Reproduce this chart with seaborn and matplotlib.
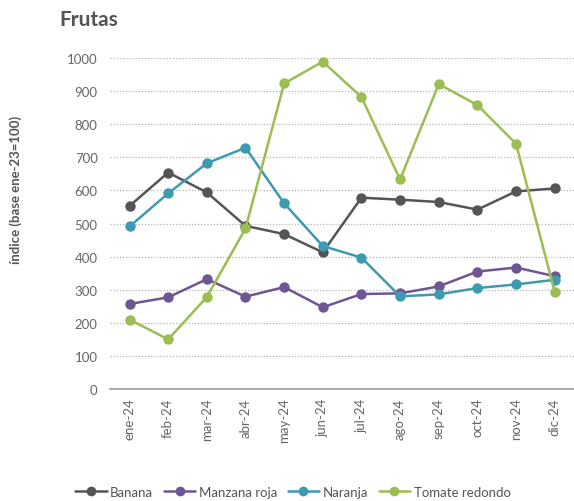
import numpy as np
import pandas as pd
import matplotlib
matplotlib.use("Agg")
import matplotlib.pyplot as plt
import seaborn as sns

meses = ["ene-24", "feb-24", "mar-24", "abr-24", "may-24", "jun-24",
         "jul-24", "ago-24", "sep-24", "oct-24", "nov-24", "dic-24"]
banana = [553, 654, 594, 493, 468, 413, 578, 572, 565, 542, 597, 606]
manzana_roja = [257, 277, 332, 279, 308, 247, 287, 289, 310, 355, 367, 341]
naranja = [491, 591, 682, 729, 561, 432, 397, 280, 286, 305, 316, 330]
tomate_redondo = [210, 150, 278, 485, 923, 989, 882, 633, 921, 858, 741, 294]

series = ["Banana", "Manzana roja", "Naranja", "Tomate redondo"]
colores = ["#555555", "#6e5594", "#3d9ab0", "#9bbd52"]

df = pd.DataFrame({
    "mes": meses * 4,
    "x": list(range(12)) * 4,
    "serie": np.repeat(series, 12),
    "valor": banana + manzana_roja + naranja + tomate_redondo,
})

sns.set_style("white")
plt.rcParams["font.family"] = ["Lato", "DejaVu Sans"]

fig = plt.figure(figsize=(5.74, 5.02), dpi=100)
ax = fig.add_axes([0.192, 0.223, 0.808, 0.6595])

sns.lineplot(data=df, x="x", y="valor", hue="serie", palette=colores,
             marker="o", markersize=7.5, markeredgewidth=0, linewidth=1.8,
             ax=ax, legend=False, clip_on=False)

ax.set_xlim(-0.5, 11.5)
ax.set_ylim(0, 1000)
ax.set_yticks(range(0, 1001, 100))
ax.set_yticklabels([str(v) for v in range(0, 1001, 100)], color="#666666", fontsize=9.5)
ax.set_xticks(range(12))
ax.set_xticklabels(meses, rotation=90, color="#666666", fontsize=9.5)
ax.set_xticks(np.arange(-0.5, 12, 1), minor=True)
ax.tick_params(axis="x", which="major", length=0, pad=6)
ax.tick_params(axis="x", which="minor", length=4, color="#999999", width=1)
ax.tick_params(axis="y", length=0, pad=9)

ax.grid(axis="y", linestyle=(0, (1, 1.5)), color="#b5b5b5", linewidth=0.9)
ax.set_axisbelow(True)
for s in ["top", "right", "left"]:
    ax.spines[s].set_visible(False)
ax.spines["bottom"].set_color("#999999")
ax.spines["bottom"].set_linewidth(1.2)
ax.spines["bottom"].set_zorder(0.5)

ax.set_xlabel("")
ax.set_ylabel("")
fig.text(0.027, 0.622, "índice (base ene-23=100)", rotation=90, fontsize=9.5,
         fontweight="bold", color="#555555", ha="center", va="center")

fig.text(0.104, 0.96, "Frutas", fontsize=15, fontweight="bold",
         color="#555555", va="center", ha="left")

handles = [plt.Line2D([], [], color=c, marker="o", markersize=7,
                      linewidth=1.8, markeredgewidth=0) for c in colores]
fig.legend(handles, series, loc="center", bbox_to_anchor=(0.51, 0.018),
           ncol=4, frameon=False, fontsize=9.5, handlelength=2.4,
           columnspacing=0.8, handletextpad=0.25, labelcolor="#555555")

fig.savefig("out.png", dpi=100)
